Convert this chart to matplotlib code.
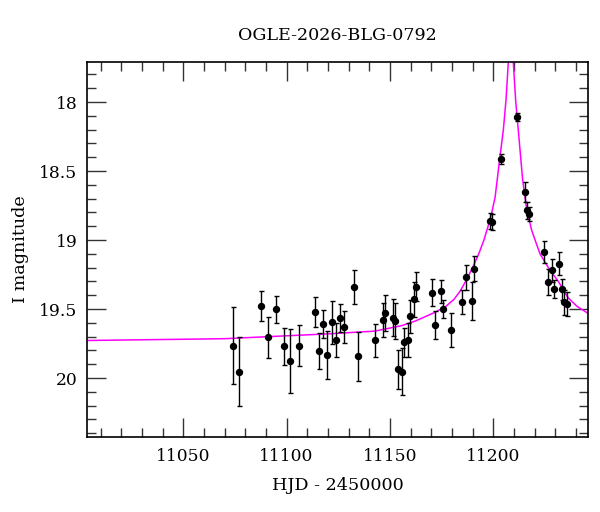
import matplotlib
matplotlib.use("Agg")
import matplotlib.pyplot as plt
from matplotlib.ticker import MultipleLocator

# Photometric data (HJD - 2450000, I magnitude, error)
hjd = [11073.9, 11077.0, 11087.8, 11090.9, 11094.9, 11098.8, 11101.8, 11105.9,
       11113.8, 11115.7, 11117.8, 11119.7, 11121.8, 11123.8, 11125.7, 11127.8,
       11132.8, 11134.7, 11142.8, 11146.7, 11147.8, 11151.5, 11152.6, 11153.8,
       11155.7, 11156.7, 11158.6, 11159.7, 11161.5, 11162.6, 11170.5, 11171.8,
       11174.6, 11175.8, 11179.6, 11184.7, 11186.7, 11189.6, 11190.5, 11198.4,
       11199.5, 11203.6, 11211.5, 11215.4, 11216.2, 11217.4, 11224.4, 11226.3,
       11228.3, 11229.2, 11231.7, 11233.4, 11234.4, 11235.5]
imag = [19.766, 19.954, 19.478, 19.705, 19.502, 19.770, 19.877, 19.766,
        19.522, 19.802, 19.609, 19.833, 19.596, 19.722, 19.567, 19.628,
        19.341, 19.843, 19.725, 19.582, 19.531, 19.563, 19.587, 19.937,
        19.954, 19.739, 19.727, 19.551, 19.430, 19.338, 19.382, 19.614,
        19.372, 19.500, 19.650, 19.449, 19.270, 19.442, 19.208, 18.860,
        18.870, 18.415, 18.111, 18.652, 18.785, 18.812, 19.087, 19.304,
        19.220, 19.353, 19.172, 19.357, 19.451, 19.464]
ierr = [0.28, 0.25, 0.11, 0.15, 0.10, 0.136, 0.23, 0.15,
        0.107, 0.13, 0.10, 0.174, 0.155, 0.123, 0.10, 0.115,
        0.123, 0.176, 0.12, 0.123, 0.13, 0.136, 0.13, 0.14,
        0.17, 0.105, 0.123, 0.12, 0.126, 0.107, 0.097, 0.10,
        0.083, 0.068, 0.123, 0.085, 0.092, 0.14, 0.092, 0.058,
        0.058, 0.036, 0.03, 0.07, 0.06, 0.05, 0.083, 0.095,
        0.086, 0.065, 0.083, 0.076, 0.09, 0.09]

# Model light curve
model_t = [11003.6, 11070.0, 11120.0, 11142.8, 11155.8, 11162.3, 11171.8, 11176.9,
           11181.0, 11184.0, 11187.0, 11190.0, 11193.0, 11195.5, 11197.5, 11199.3,
           11200.9, 11202.9, 11204.9, 11206.2, 11207.3, 11208.5, 11209.7, 11210.9,
           11212.1, 11214.2, 11216.2, 11218.6, 11222.6, 11227.5, 11231.5, 11236.3,
           11240.5, 11245.7]
model_mag = [19.728, 19.715, 19.68, 19.66, 19.62, 19.587, 19.524, 19.483,
             19.43, 19.37, 19.29, 19.20, 19.10, 19.00, 18.90, 18.80,
             18.69, 18.44, 18.20, 17.98, 17.71, 17.35, 17.71, 18.00,
             18.20, 18.56, 18.78, 18.93, 19.10, 19.22, 19.30, 19.42,
             19.48, 19.53]

title = "OGLE-2026-BLG-0792"
xlabel = "HJD - 2450000"
ylabel = "I magnitude"

plt.rcParams['font.family'] = ['DejaVu Serif']
fig = plt.figure(figsize=(6, 5.12), dpi=100)
ax = fig.add_axes([0.1455, 0.1471, 0.834, 0.7318])

ax.plot(model_t, model_mag, color='#ff00ff', lw=1.1, zorder=2)
ax.errorbar(hjd, imag, yerr=ierr, fmt='o', color='black', ms=4.3,
            elinewidth=1.0, capsize=1.8, capthick=1.0, zorder=3)

ax.set_xlim(11003.6, 11245.7)
ax.set_ylim(20.425, 17.71)
ax.xaxis.set_major_locator(MultipleLocator(50))
ax.xaxis.set_minor_locator(MultipleLocator(10))
ax.yaxis.set_major_locator(MultipleLocator(0.5))
ax.yaxis.set_minor_locator(MultipleLocator(0.1))
ax.yaxis.set_major_formatter(matplotlib.ticker.FuncFormatter(lambda v, p: ('%g' % v)))

ax.tick_params(which='both', direction='in', top=True, right=True,
               color='#333333', width=1.0, labelsize=12.3)
ax.tick_params(which='major', length=13.5)
ax.tick_params(which='minor', length=6.8)
ax.tick_params(axis='x', which='major', pad=8)
ax.tick_params(axis='y', which='major', pad=7)
for s in ax.spines.values():
    s.set_linewidth(1.2)

ax.set_title(title, fontsize=12.6, pad=16)
ax.set_xlabel(xlabel, fontsize=12.6, labelpad=9)
ax.set_ylabel(ylabel, fontsize=12.6, labelpad=7)

fig.savefig("out.png", dpi=100)
